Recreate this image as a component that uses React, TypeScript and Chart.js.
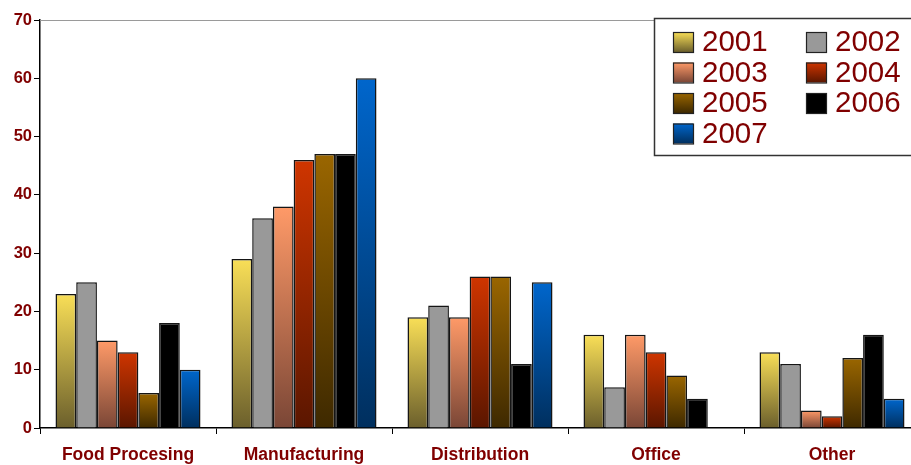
import React, { useEffect, useRef } from "react";
import { Chart, registerables } from "chart.js";

Chart.register(...registerables);

const categories = ["Food Procesing", "Manufacturing", "Distribution", "Office", "Other"];
const years = ["2001", "2002", "2003", "2004", "2005", "2006", "2007"];
const v2001 = [23, 29, 19, 16, 13];
const v2002 = [25, 36, 21, 7, 11];
const v2003 = [15, 38, 19, 16, 3];
const v2004 = [13, 46, 26, 13, 2];
const v2005 = [6, 47, 26, 9, 12];
const v2006 = [18, 47, 11, 5, 16];
const v2007 = [10, 60, 25, 0, 5];
const seriesValues = [v2001, v2002, v2003, v2004, v2005, v2006, v2007];
const yTicks = { min: 0, max: 70, step: 10 };

// gradient top / bottom colours per series
const topColors = ["#f9df57", "#999999", "#ff9a68", "#cf3500", "#9a6600", "#000000", "#0066cc"];
const bottomColors = ["#6b5f2c", "#999999", "#7a4636", "#5a1600", "#3e2900", "#000000", "#002f5e"];

const MAROON = "#800000";

function makeGradient(chart: any, i: number, value: number) {
  const y = chart.scales && chart.scales.y;
  if (!y || value == null) return topColors[i];
  const top = y.getPixelForValue(value);
  const base = y.getPixelForValue(0);
  if (!isFinite(top) || !isFinite(base) || Math.abs(base - top) < 1) return topColors[i];
  const g = chart.ctx.createLinearGradient(0, top, 0, base);
  g.addColorStop(0, topColors[i]);
  g.addColorStop(1, bottomColors[i]);
  return g;
}

const legendPlugin = {
  id: "customLegend",
  afterDraw(chart: any) {
    const ctx = chart.ctx;
    ctx.save();
    // top border of plot area
    ctx.strokeStyle = "#9a9a9a";
    ctx.lineWidth = 1;
    ctx.beginPath();
    ctx.moveTo(chart.chartArea.left, chart.chartArea.top + 0.5);
    ctx.lineTo(chart.chartArea.right, chart.chartArea.top + 0.5);
    ctx.stroke();

    const bx = 654.5, by = 18.5, bw = 300, bh = 137;
    ctx.fillStyle = "#ffffff";
    ctx.fillRect(bx, by, bw, bh);
    ctx.strokeStyle = "#333333";
    ctx.lineWidth = 1.5;
    ctx.strokeRect(bx, by, bw, bh);

    ctx.font = "29.5px 'Liberation Sans', Arial, sans-serif";
    ctx.textBaseline = "middle";
    ctx.textAlign = "left";
    years.forEach((yr, i) => {
      const col = i % 2;
      const row = Math.floor(i / 2);
      const sx = col === 0 ? 673 : 806;
      const sy = 32 + row * 30.5;
      const g = ctx.createLinearGradient(0, sy, 0, sy + 20);
      g.addColorStop(0, topColors[i]);
      g.addColorStop(1, bottomColors[i]);
      ctx.fillStyle = g;
      ctx.fillRect(sx, sy, 20, 20);
      ctx.strokeStyle = "#222";
      ctx.lineWidth = 1.2;
      ctx.strokeRect(sx + 0.5, sy + 0.5, 20, 20);
      ctx.fillStyle = MAROON;
      ctx.fillText(yr, sx + 29, sy + 11);
    });
    ctx.restore();
  },
};

export default function App() {
  const ref = useRef<HTMLCanvasElement>(null);
  useEffect(() => {
    document.body.style.margin = "0";
    document.body.style.overflow = "hidden";
    const canvas = ref.current!;
    const chart = new Chart(canvas, {
      type: "bar",
      data: {
        labels: categories,
        datasets: seriesValues.map((vals, i) => ({
          label: years[i],
          data: vals,
          backgroundColor: (c: any) => makeGradient(c.chart, i, c.raw),
          borderColor: "#151515",
          borderWidth: 1.5,
          barPercentage: 1,
          categoryPercentage: 0.824,
        })),
      },
      options: {
        responsive: false,
        animation: false,
        layout: { padding: { top: 20, right: 10, left: 0, bottom: 0 } },
        plugins: { legend: { display: false }, tooltip: { enabled: false } },
        scales: {
          x: {
            grid: { display: true, drawOnChartArea: false, drawTicks: true, tickLength: 6, color: "#000", offset: true },
            border: { color: "#000", width: 1.5 },
            ticks: {
              color: MAROON,
              font: { family: "'Liberation Sans', Arial, sans-serif", size: 17.5, weight: "bold" },
              padding: 11,
              maxRotation: 0,
            },
            afterFit(scale: any) {
              scale.height = 37;
            },
          },
          y: {
            min: yTicks.min,
            max: yTicks.max,
            grid: { display: true, drawOnChartArea: false, drawTicks: true, tickLength: 6, color: "#000" },
            border: { color: "#000", width: 1.5 },
            ticks: {
              stepSize: yTicks.step,
              color: MAROON,
              font: { family: "'Liberation Sans', Arial, sans-serif", size: 16.5, weight: "bold" },
              padding: 2,
            },
            afterFit(scale: any) {
              scale.width = 40;
            },
          },
        },
      },
      plugins: [legendPlugin],
    } as any);
    return () => chart.destroy();
  }, []);
  return (
    <div style={{ position: "fixed", left: 0, top: 0, width: 911, height: 465, overflow: "hidden", background: "#fff" }}>
      <canvas ref={ref} width={930} height={465} style={{ width: 930, height: 465, display: "block" }} />
    </div>
  );
}
